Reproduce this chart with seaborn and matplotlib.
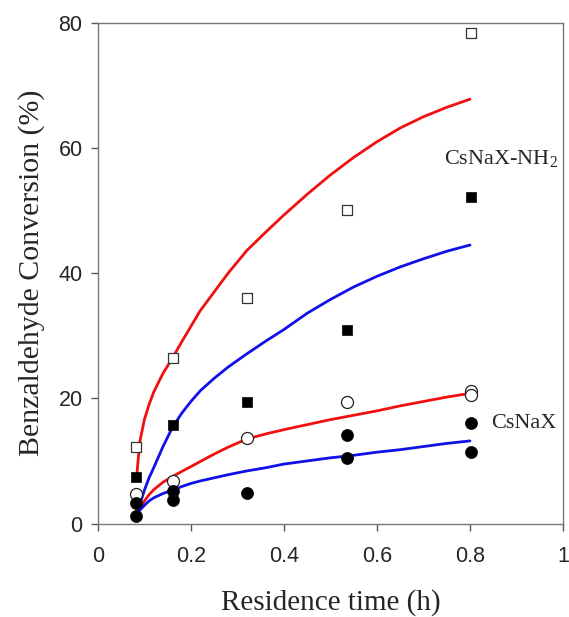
import numpy as np
import matplotlib
matplotlib.use("Agg")
import matplotlib.pyplot as plt
import seaborn as sns

# measured residence times (h)
t_exp = [0.082, 0.161, 0.321, 0.535, 0.802]

# CsNaX-NH2 (squares)
nh2_open = [12.3, 26.5, 36.0, 50.1, 78.3]
nh2_filled = [7.5, 15.8, 19.4, 31.0, 52.1]

# CsNaX (circles)
csnax_open_t = [0.082, 0.161, 0.321, 0.535, 0.802, 0.802]
csnax_open = [4.7, 6.8, 13.6, 19.4, 21.1, 20.5]
csnax_filled_t = [0.082, 0.082, 0.161, 0.161, 0.321, 0.535, 0.535, 0.802, 0.802]
csnax_filled = [3.3, 1.25, 5.2, 3.75, 4.8, 14.1, 10.4, 16.0, 11.5]

# model curves
t_fit = [0.084, 0.09, 0.1, 0.11, 0.12, 0.14, 0.16, 0.18, 0.2, 0.22, 0.25, 0.28,
         0.32, 0.36, 0.4, 0.45, 0.5, 0.55, 0.6, 0.65, 0.7, 0.75, 0.8]
fit_nh2_red = [8.0, 13.0, 16.6, 19.0, 21.0, 24.0, 26.4, 29.0, 31.5, 34.0, 37.0, 40.0,
               43.6, 46.5, 49.3, 52.6, 55.7, 58.5, 61.0, 63.2, 65.0, 66.5, 67.8]
fit_nh2_blue = [1.5, 3.0, 5.3, 7.3, 8.9, 12.3, 15.3, 17.6, 19.5, 21.2, 23.2, 25.0,
                27.1, 29.1, 31.0, 33.6, 35.8, 37.8, 39.5, 41.0, 42.3, 43.5, 44.5]
fit_cs_red = [1.5, 2.4, 3.6, 4.6, 5.4, 6.6, 7.5, 8.3, 9.1, 9.9, 11.1, 12.2,
              13.5, 14.3, 15.0, 15.8, 16.6, 17.3, 18.0, 18.8, 19.5, 20.2, 20.8]
fit_cs_blue = [1.5, 2.1, 2.9, 3.6, 4.1, 4.8, 5.3, 5.9, 6.4, 6.8, 7.3, 7.8,
               8.4, 8.9, 9.5, 10.0, 10.5, 10.9, 11.4, 11.8, 12.3, 12.8, 13.2]

sns.set_style("ticks")
plt.rcParams["font.family"] = ["Liberation Sans", "DejaVu Sans"]
serif = ["Liberation Serif", "DejaVu Serif"]

fig = plt.figure(figsize=(5.69, 6.17), dpi=100)
ax = fig.add_axes([0.172, 0.1515, 0.8175, 0.8115])

red = "#f01010"
blue = "#1010e8"
for yv, col in [(fit_nh2_red, red), (fit_nh2_blue, blue), (fit_cs_red, red), (fit_cs_blue, blue)]:
    sns.lineplot(x=t_fit, y=yv, color=col, linewidth=2.0, ax=ax, zorder=2,
                 solid_joinstyle="round", solid_capstyle="round")

sns.scatterplot(x=t_exp, y=nh2_open, marker="s", s=62, facecolor="white",
                edgecolor="#333333", linewidth=0.9, ax=ax, zorder=3)
sns.scatterplot(x=t_exp, y=nh2_filled, marker="s", s=62, color="black",
                edgecolor="black", linewidth=0.5, ax=ax, zorder=3)
sns.scatterplot(x=csnax_open_t, y=csnax_open, marker="o", s=75, facecolor="white",
                edgecolor="#222222", linewidth=0.9, ax=ax, zorder=3)
sns.scatterplot(x=csnax_filled_t, y=csnax_filled, marker="o", s=75, color="black",
                edgecolor="black", linewidth=0.5, ax=ax, zorder=3)

ax.set_xlim(0, 1)
ax.set_ylim(0, 80)
ax.set_xticks([0, 0.2, 0.4, 0.6, 0.8, 1])
ax.set_xticklabels(["0", "0.2", "0.4", "0.6", "0.8", "1"])
ax.set_yticks([0, 20, 40, 60, 80])
ax.tick_params(axis="both", labelsize=15.5, length=5, width=1, color="#555555",
               direction="out", pad=6)
ax.tick_params(axis="x", pad=11)
for sp in ax.spines.values():
    sp.set_color("#777777")
    sp.set_linewidth(1.0)

ax.set_xlabel("Residence time (h)", family=serif, fontsize=21, labelpad=16)
ax.set_ylabel("Benzaldehyde Conversion (%)", family=serif, fontsize=21.5, labelpad=10)

ax.text(0.745, 58.2, r"CsNaX-NH$_\mathregular{2}$", family=serif, fontsize=16,
        ha="left", va="center")
ax.text(0.845, 16.0, "CsNaX", family=serif, fontsize=16, ha="left", va="center")

fig.savefig("out.png", dpi=100)
